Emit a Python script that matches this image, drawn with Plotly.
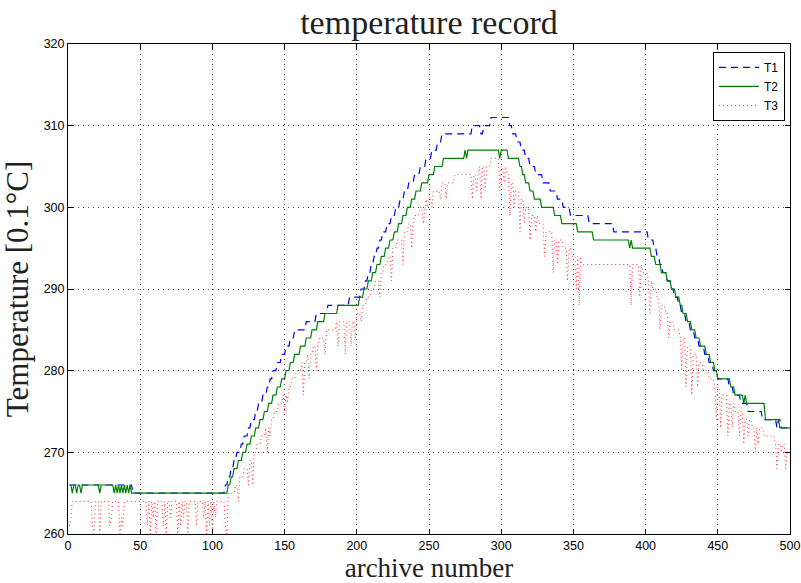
import numpy as np
import plotly.graph_objects as go

# ---- data: step break-points (archive index where value starts, value in 0.1 degC) ----
T1_steps = [(1,266),(45,265),(109,266),(111,267),(113,268),(115,269),(117,270),(120,271),(122,272),(125,273),
            (127,274),(130,275),(132,276),(135,277),(138,278),(140,279),(142,280),(145,281),(148,282),(151,283),
            (154,284),(157,285),(165,286),(172,287),(180,288),(195,289),(203,290),(206,291),(208,292),(210,293),
            (212,294),(214,295),(216,296),(218,297),(221,298),(224,299),(227,300),(230,301),(233,302),(236,303),
            (240,304),(244,305),(248,306),(252,307),(256,308),(259,309),(280,310),(286,309),(288,310),(293,311),
            (306,310),(308,309),(311,308),(314,307),(317,306),(320,305),(324,304),(329,303),(334,302),(339,301),
            (343,300),(348,299),(361,298),(378,297),(402,296),(406,295),(408,294),(410,293),(412,292),(415,291),
            (418,290),(420,289),(423,288),(425,287),(428,286),(431,285),(434,284),(437,283),(441,282),(444,281),
            (447,280),(450,279),(458,278),(461,277),(466,276),(471,275),(481,274),(491,273),(492,274),(494,273)]

T2_steps = [(1,266),(3,265),(4,266),(6,265),(7,266),(9,265),(10,266),(22,265),(23,266),(32,265),(33,266),
            (34,265),(35,266),(36,265),(37,266),(38,265),(39,266),(40,265),(41,266),(42,265),(43,266),(44,265),
            (111,266),(113,267),(115,268),(118,269),(121,270),(124,271),(127,272),(130,273),(133,274),(136,275),
            (139,276),(142,277),(145,278),(148,279),(151,280),(154,281),(157,282),(161,283),(165,284),(169,285),
            (173,286),(178,287),(187,288),(202,289),(205,290),(208,291),(211,292),(214,293),(217,294),(220,295),
            (223,296),(226,297),(229,298),(232,299),(235,300),(238,301),(241,302),(245,303),(250,304),(254,305),
            (260,306),(275,307),(276,306),(277,307),(299,306),(300,307),(305,306),(313,305),(315,304),(317,303),
            (320,302),(323,301),(328,300),(337,299),(342,298),(353,297),(364,296),(389,295),(390,296),(391,295),
            (404,294),(407,293),(411,292),(415,291),(418,290),(421,289),(424,288),(426,287),(429,286),(432,285),
            (435,284),(438,283),(442,282),(445,281),(448,280),(450,279),(459,278),(462,277),(468,276),(469,277),
            (470,276),(483,274),(493,273)]

T3_steps = [(1,264),(111,265),(116,266),(119,267),(122,268),(125,269),(128,270),(131,271),(134,272),(137,273),
            (140,274),(143,275),(146,276),(149,277),(152,278),(155,279),(158,280),(162,281),(166,282),(170,283),
            (174,284),(179,285),(186,286),(200,287),(204,288),(207,289),(210,290),(213,291),(216,292),(219,293),
            (222,294),(225,295),(228,296),(232,297),(236,298),(240,299),(244,300),(248,301),(253,302),(258,303),
            (268,304),(285,305),(293,306),(300,305),(304,304),(307,303),(310,302),(313,301),(317,300),(321,299),
            (326,298),(331,297),(337,296),(343,295),(349,294),(356,293),(398,292),(402,291),(405,290),(408,289),
            (411,288),(414,287),(417,286),(420,285),(424,284),(428,283),(432,282),(436,281),(440,280),(444,279),
            (448,278),(452,277),(457,276),(462,275),(468,274),(474,273),(482,272),(490,271),(497,270)]

# short downward dips of T3 (archive index, value)
T3_dip_x = [1,2,17,18,22,29,30,36,37,38,55,57,59,61,66,68,71,76,78,80,83,89,94,96,98,100,102,109,110,
            118,125,128,138,140,150,152,163,167,172,178,187,192,196,199,203,
            216,224,232,238,246,249,252,258,262,280,283,286,289,299,302,306,309,313,316,320,324,330,336,339,
            346,352,354,390,396,403,410,416,425,428,432,436,449,452,457,460,465,468,471,476,478,491,494,497]
T3_dip_v = [261,262,261,260,260,261,262,260,262,261,261,260,262,260,261,260,262,260,261,262,260,261,262,260,261,260,262,261,260,
            264,266,266,270,272,275,276,277,279,280,282,283,282,283,284,286,
            289,291,293,295,298,300,300,301,301,301,302,301,302,302,303,299,300,297,298,296,297,294,292,293,
            291,290,288,288,289,287,285,284,280,278,277,278,274,273,272,273,272,271,272,270,271,268,270,268]

N = 500
x_vals = np.arange(1, N + 1)


def expand(steps, n=N):
    out = np.empty(n)
    for i, (s, v) in enumerate(steps):
        e = steps[i + 1][0] if i + 1 < len(steps) else n + 1
        out[s - 1:e - 1] = v
    return out


t1 = expand(T1_steps)
t2 = expand(T2_steps)
t3 = expand(T3_steps)
for xi, vi in zip(T3_dip_x, T3_dip_v):
    t3[xi - 1] = vi

fig = go.Figure()
fig.add_trace(go.Scatter(x=x_vals, y=t1, name="T1", mode="lines",
                         line=dict(color="#0000ff", width=1.2, dash="7px,5px")))
fig.add_trace(go.Scatter(x=x_vals, y=t2, name="T2", mode="lines",
                         line=dict(color="#008000", width=1.2)))
fig.add_trace(go.Scatter(x=x_vals, y=t3, name="T3", mode="lines",
                         line=dict(color="#ff3030", width=1, dash="1px,3px")))

serif = "Liberation Serif, Times New Roman, serif"
sans = "Liberation Sans, Arial, sans-serif"

axis_common = dict(showline=True, linecolor="black", linewidth=1, mirror="ticks",
                   ticks="inside", ticklen=5, tickcolor="black",
                   showgrid=True, gridcolor="rgba(0,0,0,0.75)", griddash="1px,4px", gridwidth=1,
                   zeroline=False, tickfont=dict(family=sans, size=12.5, color="black"))

fig.update_layout(
    width=801, height=583,
    paper_bgcolor="white", plot_bgcolor="white",
    margin=dict(l=68, r=11, t=44, b=49, autoexpand=False),
    title=dict(text="temperature record", font=dict(family=serif, size=34, color="#222"),
               x=0.5, xref="paper", y=1 - 22 / 583, yref="container", yanchor="middle", xanchor="center"),
    xaxis=dict(range=[0, 500], tickvals=[0, 50, 100, 150, 200, 250, 300, 350, 400, 450, 500],
               ticklabelstandoff=0,
               title=dict(text="archive number", font=dict(family=serif, size=27, color="#222"), standoff=13),
               **axis_common),
    yaxis=dict(range=[260, 320], tickvals=[260, 270, 280, 290, 300, 310, 320],
               title=dict(text="Temperature [0.1°C]", font=dict(family=serif, size=31, color="#222"), standoff=5),
               **axis_common),
    legend=dict(x=0.993, y=0.984, xanchor="right", yanchor="top",
                bgcolor="white", bordercolor="black", borderwidth=1,
                font=dict(family=sans, size=12, color="black"),
                itemwidth=40, tracegroupgap=0),
    showlegend=True,
)

fig.write_html("out.html", config={"displayModeBar": False},
               post_script="document.body.style.margin='0';document.body.style.overflow='hidden';")
